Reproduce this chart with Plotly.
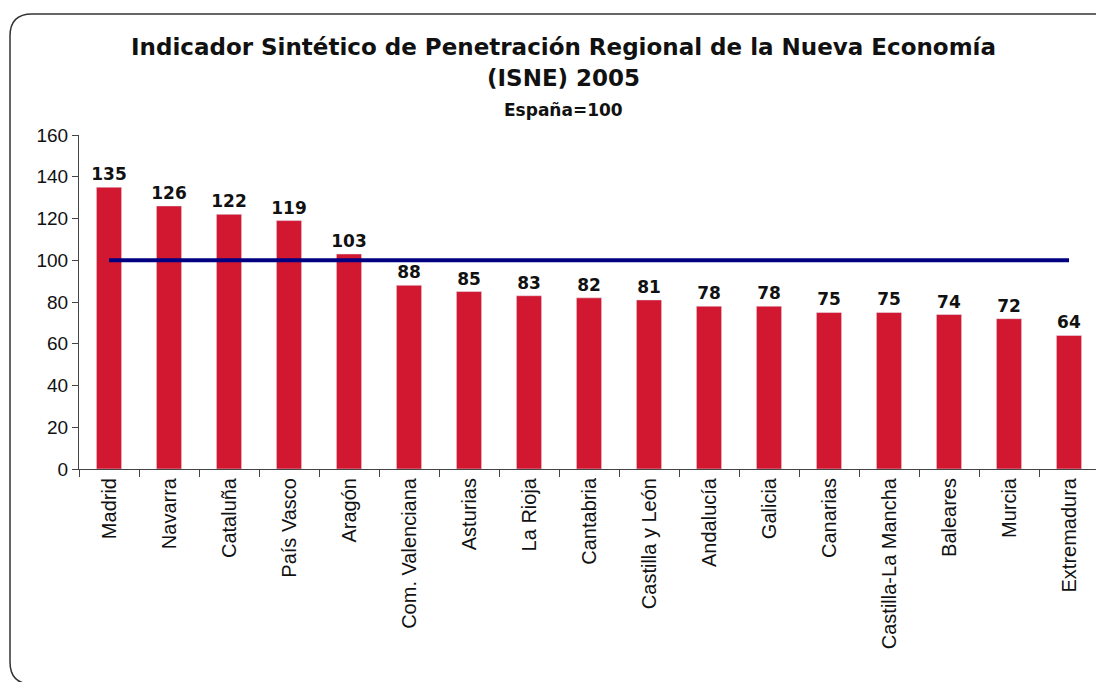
import plotly.graph_objects as go

# data
regions = ["Madrid", "Navarra", "Cataluña", "País Vasco", "Aragón", "Com. Valenciana",
           "Asturias", "La Rioja", "Cantabria", "Castilla y León", "Andalucía", "Galicia",
           "Canarias", "Castilla-La Mancha", "Baleares", "Murcia", "Extremadura"]
isne = [135, 126, 122, 119, 103, 88, 85, 83, 82, 81, 78, 78, 75, 75, 74, 72, 64]
spain = 100
y_ticks = [0, 20, 40, 60, 80, 100, 120, 140, 160]

# page has an 8px body margin, so work in figure pixels (screen - 8)
L, R, T, B = 71, 13, 127, 221
W, H = 1104, 682
pw, ph = W - L - R, H - T - B

def px(x):
    return (x - L) / pw

def py(y):
    return (H - B - y) / ph

fig = go.Figure()

fig.add_trace(go.Bar(
    x=regions, y=isne,
    marker_color="#D21731",
    text=isne, textposition="outside",
    textfont=dict(family="DejaVu Sans", size=17, color="#111"),
    texttemplate="<b>%{text}</b>",
    constraintext="none",
    cliponaxis=False,
    width=0.42,
))

fig.add_trace(go.Scatter(
    x=[regions[0], regions[-1]], y=[spain, spain],
    mode="lines",
    line=dict(color="#000080", width=4),
))

# rounded frame around the chart
x0, y0, x1, y1, r = 2, 6, 1130, 676, 22
path = (f"M {px(x0)},{py(y0 + r)} "
        f"Q {px(x0)},{py(y0)} {px(x0 + r)},{py(y0)} "
        f"L {px(x1)},{py(y0)} "
        f"M {px(x0)},{py(y0 + r)} L {px(x0)},{py(y1 - r)} "
        f"Q {px(x0)},{py(y1)} {px(x0 + r)},{py(y1)} L {px(x1)},{py(y1)}")
fig.add_shape(type="path", path=path, xref="paper", yref="paper",
              line=dict(color="#333", width=1.5))

titles = [
    ("<b>Indicador Sintético de Penetración Regional de la Nueva Economía</b>", 39, 23),
    ("<b>(ISNE) 2005</b>", 70, 23),
    ("<b>España=100</b>", 102, 17),
]
for txt, yy, size in titles:
    fig.add_annotation(text=txt, x=px(555), y=py(yy), xref="paper", yref="paper",
                       xanchor="center", yanchor="middle", showarrow=False,
                       font=dict(family="DejaVu Sans", size=size, color="#111"))

fig.update_layout(
    width=W, height=H,
    margin=dict(l=L, r=R, t=T, b=B),
    plot_bgcolor="white", paper_bgcolor="white",
    showlegend=False,
    font=dict(family="Liberation Sans, Arial", size=20, color="#111"),
)

fig.update_yaxes(
    range=[0, 160], tickvals=y_ticks, automargin=False,
    tickfont=dict(size=19),
    showgrid=False, zeroline=False,
    showline=True, linecolor="#444", linewidth=1,
    ticks="outside", ticklen=6, tickcolor="#444",
)
fig.update_xaxes(
    tickangle=-90, showgrid=False, automargin=False,
    showline=True, linecolor="#444", linewidth=1,
    ticks="outside", ticklen=7, tickcolor="#444", tickson="boundaries",
)

fig.write_html("out.html")
